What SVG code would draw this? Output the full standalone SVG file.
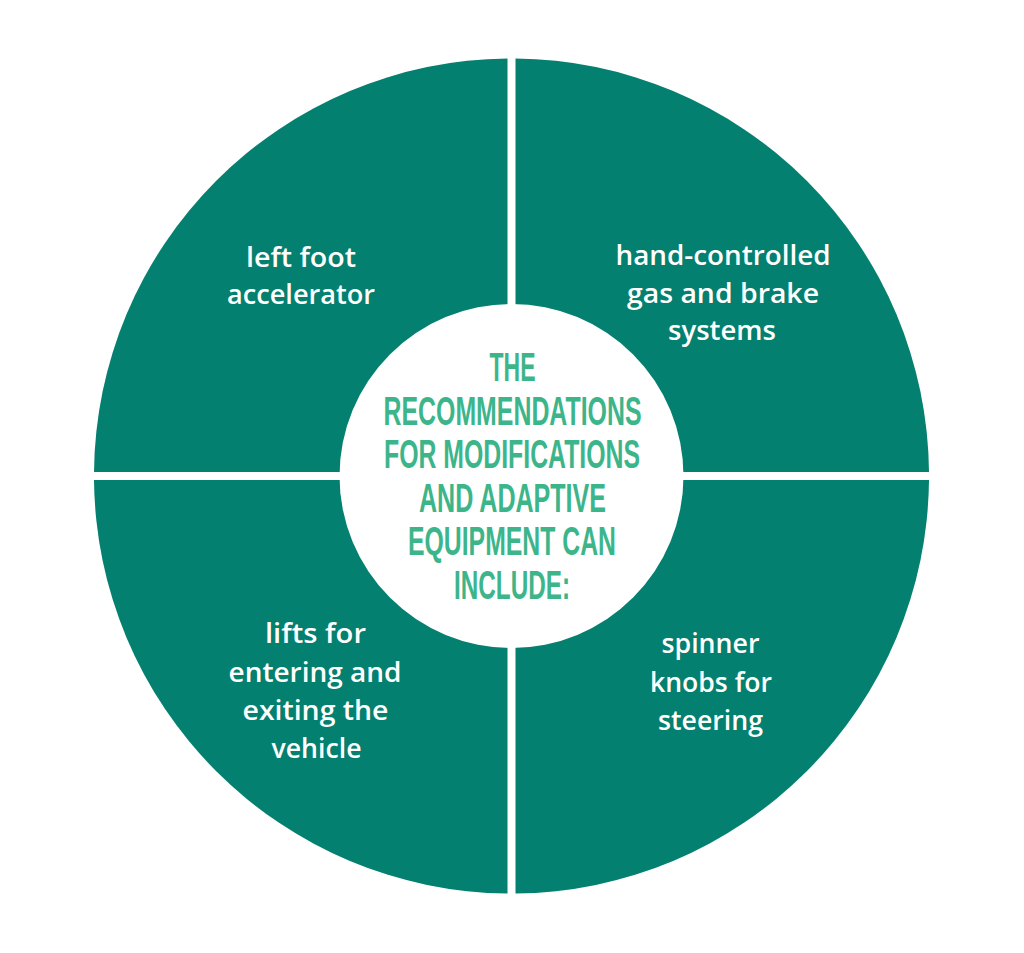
<svg xmlns="http://www.w3.org/2000/svg" width="1024" height="953" viewBox="0 0 1024 953">
<style>
.q{fill:#03806f}
.lbl{font-family:"Open Sans","Lato",sans-serif;font-size:27px;font-weight:600;fill:#ffffff;text-anchor:middle}
.ctr{font-family:"Liberation Sans","DejaVu Sans",sans-serif;font-weight:bold;font-size:41px;fill:#3db58a;text-anchor:middle}
</style>
<rect width="1024" height="953" fill="#ffffff"/>
<g id="q-top-left">
<path class="q" d="M507.5,472 L507.5,58.5 A417.5,417.5 0 0 0 94,472 Z"/>
<text class="lbl" x="301" y="267" textLength="110" lengthAdjust="spacingAndGlyphs">left foot</text>
<text class="lbl" x="301" y="304" textLength="148" lengthAdjust="spacingAndGlyphs">accelerator</text>
</g>
<g id="q-top-right">
<path class="q" d="M515.5,472 L515.5,58.5 A417.5,417.5 0 0 1 929,472 Z"/>
<text class="lbl" x="723" y="265" textLength="215" lengthAdjust="spacingAndGlyphs">hand-controlled</text>
<text class="lbl" x="723" y="303" textLength="192" lengthAdjust="spacingAndGlyphs">gas and brake</text>
<text class="lbl" x="722" y="340" textLength="108" lengthAdjust="spacingAndGlyphs">systems</text>
</g>
<g id="q-bottom-right">
<path class="q" d="M515.5,480 L929,480 A417.5,417.5 0 0 1 515.5,893.5 Z"/>
<text class="lbl" x="710.5" y="653" textLength="98" lengthAdjust="spacingAndGlyphs">spinner</text>
<text class="lbl" x="711" y="691.5" textLength="122" lengthAdjust="spacingAndGlyphs">knobs for</text>
<text class="lbl" x="710.5" y="729.5" textLength="105" lengthAdjust="spacingAndGlyphs">steering</text>
</g>
<g id="q-bottom-left">
<path class="q" d="M507.5,480 L507.5,893.5 A417.5,417.5 0 0 1 94,480 Z"/>
<text class="lbl" x="315.5" y="643" textLength="101" lengthAdjust="spacingAndGlyphs">lifts for</text>
<text class="lbl" x="315" y="681.5" textLength="173" lengthAdjust="spacingAndGlyphs">entering and</text>
<text class="lbl" x="315.5" y="720" textLength="146" lengthAdjust="spacingAndGlyphs">exiting the</text>
<text class="lbl" x="316.5" y="758" textLength="90" lengthAdjust="spacingAndGlyphs">vehicle</text>
</g>
<g id="center">
<circle cx="511.5" cy="476" r="172" fill="#ffffff"/>
<text class="ctr" x="512.5" y="381" textLength="46" lengthAdjust="spacingAndGlyphs">THE</text>
<text class="ctr" x="512.5" y="424.5" textLength="258" lengthAdjust="spacingAndGlyphs">RECOMMENDATIONS</text>
<text class="ctr" x="512" y="468" textLength="256" lengthAdjust="spacingAndGlyphs">FOR MODIFICATIONS</text>
<text class="ctr" x="512.5" y="511.5" textLength="187" lengthAdjust="spacingAndGlyphs">AND ADAPTIVE</text>
<text class="ctr" x="512" y="555" textLength="208" lengthAdjust="spacingAndGlyphs">EQUIPMENT CAN</text>
<text class="ctr" x="512" y="598.5" textLength="116" lengthAdjust="spacingAndGlyphs">INCLUDE:</text>
</g>
<g id="connectors"/>
</svg>
